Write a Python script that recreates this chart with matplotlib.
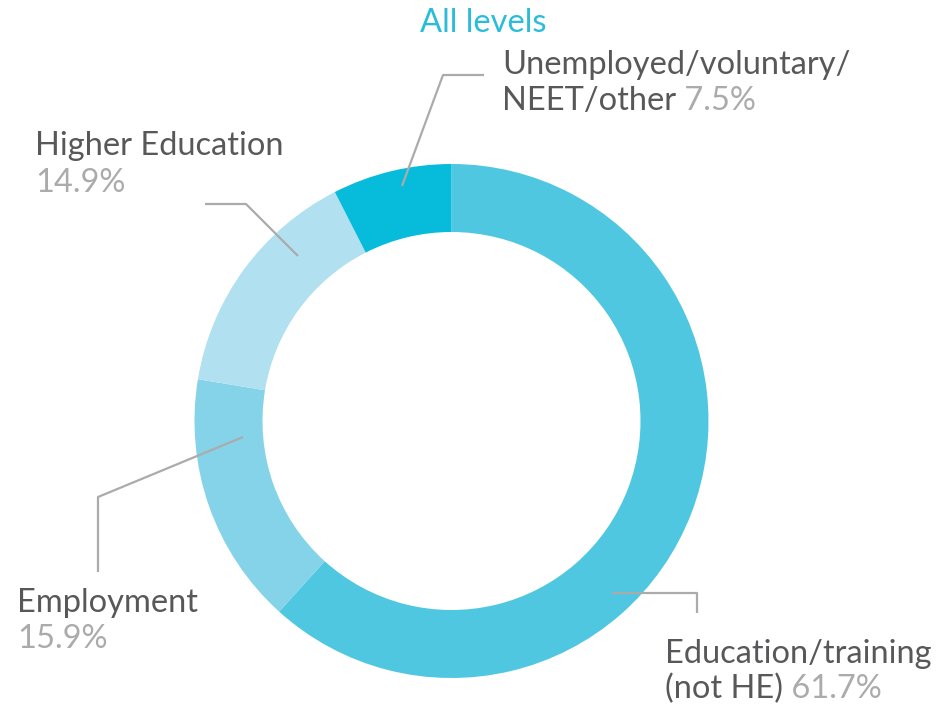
import matplotlib
matplotlib.use("Agg")
import matplotlib.pyplot as plt

# Destinations of leavers, all levels
categories = ["Education/training\n(not HE)", "Employment", "Higher Education",
              "Unemployed/voluntary/\nNEET/other"]
shares = [61.7, 15.9, 14.9, 7.5]
colors = ["#50C7E1", "#84D3E8", "#B1E0F0", "#07BCDB"]

W, H = 938, 711
fig = plt.figure(figsize=(W / 100, H / 100), dpi=100)
ax = fig.add_axes([0, 0, 1, 1])

FONT = "Lato"
DARK = "#58585A"
GREY = "#ABABAB"
LINE = "#ABABAB"


def py(y):
    """Convert a top-down pixel row to the axes' bottom-up coordinate."""
    return H - y


cx, cy, r_out, r_in = 451.5, py(421), 257, 189
ax.pie(shares, colors=colors, startangle=90, counterclock=False,
       center=(cx, cy), radius=r_out, frame=True,
       wedgeprops=dict(width=r_out - r_in, linewidth=0))
ax.set_xlim(0, W)
ax.set_ylim(0, H)
ax.set_aspect("equal")
ax.axis("off")

# Title
ax.text(420, py(23), "All levels", color="#2ABDD9", fontsize=23.5, family=FONT,
        ha="left", va="center")

# Leader lines (pixel coordinates, top-down)
leaders = [
    [(402, 186), (443, 75), (484, 75)],
    [(298, 256), (246, 204), (205, 204)],
    [(243, 437), (98, 497), (98, 572)],
    [(612, 593), (697, 593), (697, 613)],
]
for pts in leaders:
    xs = [p[0] for p in pts]
    ys = [py(p[1]) for p in pts]
    ax.plot(xs, ys, color=LINE, lw=1.6, solid_capstyle="butt")

LS = 23.5


def label(x, y1, y2, line1, line2, pct):
    """Two-line label: dark name text, grey percentage on the second line."""
    ax.text(x, py(y1), line1, color=DARK, fontsize=LS, family=FONT,
            ha="left", va="baseline")
    t = ax.text(x, py(y2), line2, color=DARK, fontsize=LS, family=FONT,
                ha="left", va="baseline")
    if line2:
        ax.annotate(" " + pct, xycoords=t, xy=(1, 0), va="bottom",
                    color=GREY, fontsize=LS, family=FONT)
    else:
        ax.text(x, py(y2), pct, color=GREY, fontsize=LS, family=FONT,
                ha="left", va="baseline")


def fmt(v):
    return f"{v:.1f}%"


ed1, ed2 = categories[0].split("\n")
un1, un2 = categories[3].split("\n")
label(502, 74, 110, un1, un2, fmt(shares[3]))
label(35, 155, 192, categories[2], "", fmt(shares[2]))
label(17, 612, 648, categories[1], "", fmt(shares[1]))
label(665, 663, 698, ed1, ed2, fmt(shares[0]))

fig.savefig("out.png", dpi=100)
